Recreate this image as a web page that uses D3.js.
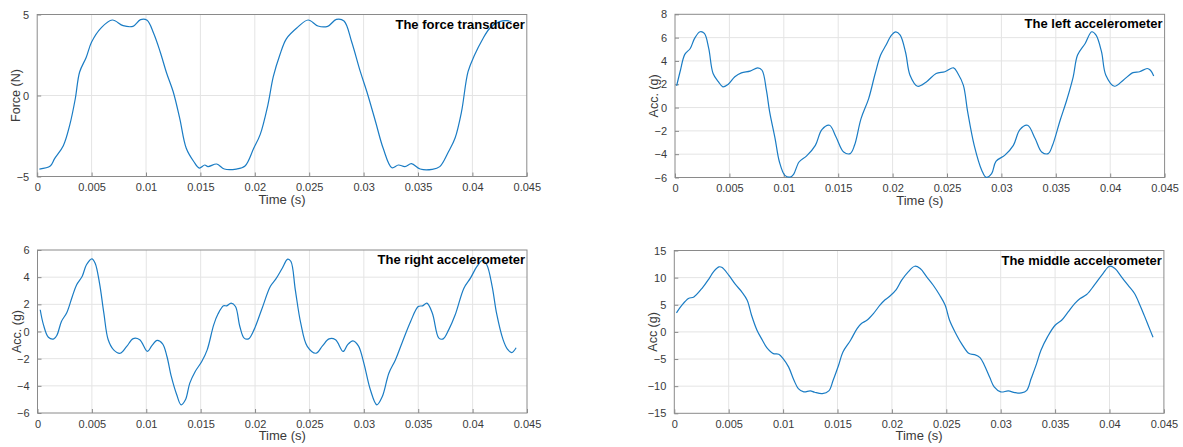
<!DOCTYPE html>
<html>
<head>
<meta charset="utf-8">
<script src="https://cdn.jsdelivr.net/npm/d3@7"></script>
<style>
  body { margin: 0; background: #fff; }
  svg { display: block; font-family: "Liberation Sans", Arial, sans-serif; }
</style>
</head>
<body>
<div id="chart"></div>
<script>
// time (s) and value pairs per sensor
const forceT = [0.0002,0.0012,0.0016,0.0024,0.003,0.0035,0.0039,0.0045,0.005,0.0059,0.0069,0.0079,0.0088,0.0095,0.0101,0.0107,0.0113,0.0119,0.0125,0.0131,0.0137,0.0144,0.0149,0.0154,0.0157,0.0165,0.0172,0.0183,0.0191,0.0199,0.0205,0.0212,0.0217,0.0223,0.0229,0.0239,0.0249,0.0258,0.0267,0.0275,0.0282,0.0289,0.0297,0.0303,0.0311,0.0318,0.0326,0.0332,0.0338,0.0344,0.0352,0.0363,0.037,0.0378,0.0384,0.039,0.0396,0.0402,0.0409,0.0416,0.0425,0.0432,0.0436];
const forceV = [-4.54,-4.35,-3.9,-3.1,-1.8,-0.2,1.45,2.35,3.3,4.19,4.66,4.31,4.27,4.68,4.64,3.84,2.7,1.37,0.23,-1.41,-3.26,-4.09,-4.48,-4.29,-4.39,-4.23,-4.54,-4.54,-4.35,-3.26,-2.4,-0.59,1.16,2.5,3.5,4.19,4.66,4.29,4.27,4.7,4.6,3.32,1.47,0.23,-1.62,-3.26,-4.46,-4.29,-4.39,-4.21,-4.54,-4.56,-4.39,-3.47,-2.64,-1.0,1.47,2.5,3.43,4.15,4.56,4.62,4.55];

const leftT = [0.00015,0.0005,0.0009,0.0014,0.0018,0.0023,0.0027,0.0031,0.0035,0.004,0.0044,0.0049,0.0055,0.0061,0.0069,0.0076,0.008,0.0084,0.0087,0.0092,0.0096,0.0101,0.0106,0.0109,0.0114,0.0121,0.0129,0.0135,0.0142,0.0148,0.0155,0.0161,0.0165,0.0171,0.0178,0.0184,0.0189,0.0194,0.0199,0.0203,0.0207,0.0212,0.0216,0.0223,0.0231,0.024,0.0248,0.0256,0.026,0.0265,0.0269,0.0275,0.0282,0.0286,0.0291,0.0295,0.0303,0.0311,0.0317,0.0324,0.0331,0.0337,0.0343,0.0347,0.0354,0.036,0.0366,0.037,0.0377,0.0383,0.0387,0.0392,0.0396,0.0404,0.0412,0.0421,0.0427,0.0434,0.0437,0.044];
const leftV = [1.86,3.2,4.56,5.07,5.93,6.5,6.36,5.07,2.92,2.2,1.78,2.0,2.64,2.98,3.12,3.41,3.2,1.49,-0.37,-2.66,-4.67,-5.82,-5.96,-5.73,-4.67,-4.15,-3.24,-1.89,-1.52,-2.52,-3.81,-3.95,-3.24,-0.95,0.77,2.92,4.5,5.36,6.22,6.5,6.22,4.7,2.78,1.83,2.2,2.92,3.07,3.41,2.92,1.92,-0.37,-3.24,-5.39,-5.99,-5.67,-4.61,-4.1,-3.24,-1.89,-1.52,-2.66,-3.81,-3.95,-3.24,-1.09,0.63,2.64,4.5,5.5,6.5,6.22,4.79,2.78,1.83,2.35,3.0,3.07,3.35,3.2,2.7];

const rightT = [0.00025,0.00055,0.001,0.0015,0.0018,0.0022,0.0027,0.0032,0.0036,0.0041,0.0045,0.005,0.0053,0.0057,0.0061,0.0065,0.007,0.0076,0.0082,0.0088,0.0094,0.0101,0.0105,0.011,0.0115,0.0119,0.0123,0.0128,0.0132,0.0136,0.014,0.0145,0.0151,0.0156,0.0162,0.0166,0.0171,0.0174,0.0178,0.0182,0.0186,0.019,0.0194,0.0199,0.0206,0.0214,0.0219,0.0225,0.023,0.0233,0.0237,0.0242,0.0248,0.0256,0.0262,0.0268,0.0274,0.0281,0.0285,0.029,0.0295,0.03,0.0306,0.0312,0.0317,0.0323,0.0329,0.0335,0.0343,0.035,0.0354,0.0358,0.0363,0.0369,0.0373,0.0378,0.0384,0.0392,0.0398,0.0404,0.0409,0.0413,0.0418,0.0422,0.0428,0.0432,0.0436,0.044];
const rightV = [1.6,0.49,-0.42,-0.54,-0.25,0.74,1.4,2.58,3.44,4.05,4.91,5.35,5.03,3.56,1.35,-0.61,-1.35,-1.6,-1.1,-0.52,-0.61,-1.47,-1.06,-0.66,-0.91,-1.84,-3.31,-4.66,-5.4,-5.03,-3.8,-2.94,-2.21,-1.35,0.49,1.3,1.89,1.89,2.09,1.84,0.37,-0.49,-0.54,0.12,1.6,3.31,3.85,4.66,5.33,5.15,3.07,0.61,-1.1,-1.6,-1.06,-0.54,-0.61,-1.47,-0.98,-0.69,-1.06,-2.33,-4.29,-5.4,-4.79,-3.07,-2.09,-0.86,0.74,1.84,1.89,2.09,1.35,-0.49,-0.54,0.12,1.23,3.19,3.93,4.79,5.23,4.91,3.31,1.35,-0.6,-1.3,-1.55,-1.2];

const midT = [0.0002,0.0007,0.0013,0.0018,0.0026,0.0032,0.0036,0.0041,0.0044,0.005,0.0056,0.0062,0.0067,0.0071,0.0076,0.0081,0.0085,0.0091,0.0096,0.01,0.0105,0.011,0.0114,0.0119,0.0125,0.0129,0.0136,0.0142,0.0146,0.0151,0.0155,0.0162,0.0168,0.0172,0.0177,0.0183,0.0189,0.0194,0.0198,0.0204,0.0209,0.0215,0.0221,0.0226,0.0232,0.0238,0.0244,0.0249,0.0253,0.0258,0.0264,0.0271,0.0276,0.0281,0.0285,0.029,0.0294,0.03,0.0307,0.0313,0.0319,0.0324,0.0328,0.0333,0.0337,0.0343,0.035,0.0356,0.0362,0.0368,0.0373,0.0379,0.0386,0.0394,0.04,0.0405,0.0411,0.0417,0.0423,0.0428,0.0432,0.0436,0.044];
const midV = [3.5,4.92,6.15,6.45,8.17,9.83,11.06,11.99,11.86,10.45,8.79,7.38,5.84,3.07,0.31,-1.54,-2.89,-4.0,-4.12,-4.92,-6.45,-8.91,-10.45,-11.06,-10.88,-11.12,-11.37,-10.88,-8.91,-6.15,-3.69,-1.54,0.61,1.54,2.15,3.38,4.92,5.96,6.58,7.81,9.53,11.06,12.1,11.68,10.14,8.6,6.76,4.92,2.15,0.0,-2.15,-4.0,-4.18,-4.73,-6.15,-8.42,-10.14,-11.06,-10.88,-11.19,-11.25,-10.76,-8.6,-5.84,-3.38,-0.92,1.23,2.15,3.69,5.22,6.15,6.88,8.6,10.76,12.1,11.68,10.14,8.6,7.07,4.92,3.0,1.0,-1.0];

const xTicks = [0,0.005,0.01,0.015,0.02,0.025,0.03,0.035,0.04,0.045];

const panels = [
  {t: forceT, v: forceV, yDomain: [-5, 5], yTicks: [-5, 0, 5], yLabel: "Force (N)", title: "The force transducer",
   box: [37.2, 526.8, 14.5, 176.5]},
  {t: leftT, v: leftV, yDomain: [-6, 8], yTicks: [-6,-4,-2,0,2,4,6,8], yLabel: "Acc. (g)", title: "The left accelerometer",
   box: [675, 1164.6, 14.3, 177.5]},
  {t: rightT, v: rightV, yDomain: [-6, 6], yTicks: [-6,-4,-2,0,2,4,6], yLabel: "Acc. (g)", title: "The right accelerometer",
   box: [37.5, 527, 250, 413]},
  {t: midT, v: midV, yDomain: [-15, 15], yTicks: [-15,-10,-5,0,5,10,15], yLabel: "Acc (g)", title: "The middle accelerometer",
   box: [674.3, 1163.9, 250.5, 413.3]}
];

const width = 1183, height = 447;
const lineColor = "#1a7cc4", boxColor = "#8a8a8a", gridColor = "#e4e4e4", textColor = "#3a3a3a";

const svg = d3.select("#chart").append("svg")
  .attr("width", width)
  .attr("height", height)
  .attr("viewBox", [0, 0, width, height]);

panels.forEach(p => {
  const [x0, x1, y0, y1] = p.box;
  const x = d3.scaleLinear().domain([0, 0.045]).range([x0, x1]);
  const y = d3.scaleLinear().domain(p.yDomain).range([y1, y0]);
  const g = svg.append("g");

  // grid
  g.append("g").selectAll("line").data(xTicks.slice(1, -1)).join("line")
    .attr("x1", d => x(d)).attr("x2", d => x(d))
    .attr("y1", y0).attr("y2", y1)
    .attr("stroke", gridColor);
  g.append("g").selectAll("line").data(p.yTicks.slice(1, -1)).join("line")
    .attr("x1", x0).attr("x2", x1)
    .attr("y1", d => y(d)).attr("y2", d => y(d))
    .attr("stroke", gridColor);

  // axes (ticks point inward like matlab)
  g.append("g")
    .attr("transform", `translate(0,${y1})`)
    .call(d3.axisBottom(x).tickValues(xTicks).tickSize(-4).tickPadding(7).tickFormat(d => d3.format("~g")(d)))
    .call(a => a.select(".domain").remove())
    .call(a => a.selectAll(".tick line").attr("stroke", boxColor))
    .call(a => a.selectAll(".tick text").attr("fill", textColor).attr("font-size", 11).attr("font-family", "Liberation Sans, Arial, sans-serif"));
  g.append("g")
    .attr("transform", `translate(${x0},0)`)
    .call(d3.axisLeft(y).tickValues(p.yTicks).tickSize(-4).tickPadding(8))
    .call(a => a.select(".domain").remove())
    .call(a => a.selectAll(".tick line").attr("stroke", boxColor))
    .call(a => a.selectAll(".tick text").attr("fill", textColor).attr("font-size", 11).attr("font-family", "Liberation Sans, Arial, sans-serif"));

  g.append("rect")
    .attr("x", x0).attr("y", y0)
    .attr("width", x1 - x0).attr("height", y1 - y0)
    .attr("fill", "none").attr("stroke", boxColor);

  const line = d3.line()
    .curve(d3.curveCatmullRom)
    .x((d, i) => x(p.t[i]))
    .y(d => y(d));
  g.append("path")
    .attr("fill", "none")
    .attr("stroke", lineColor)
    .attr("stroke-width", 1.2)
    .attr("d", line(p.v));

  g.append("text")
    .attr("x", (x0 + x1) / 2).attr("y", y1 + 27)
    .attr("text-anchor", "middle")
    .attr("fill", textColor).attr("font-size", 13)
    .text("Time (s)");
  g.append("text")
    .attr("transform", `translate(${x0 - 17},${(y0 + y1) / 2}) rotate(-90)`)
    .attr("text-anchor", "middle")
    .attr("fill", textColor).attr("font-size", 12.5)
    .text(p.yLabel);
  g.append("text")
    .attr("x", x1 - 2).attr("y", y0 + 14)
    .attr("text-anchor", "end")
    .attr("fill", "#000").attr("font-size", 13).attr("font-weight", "bold")
    .text(p.title);
});
</script>
</body>
</html>
